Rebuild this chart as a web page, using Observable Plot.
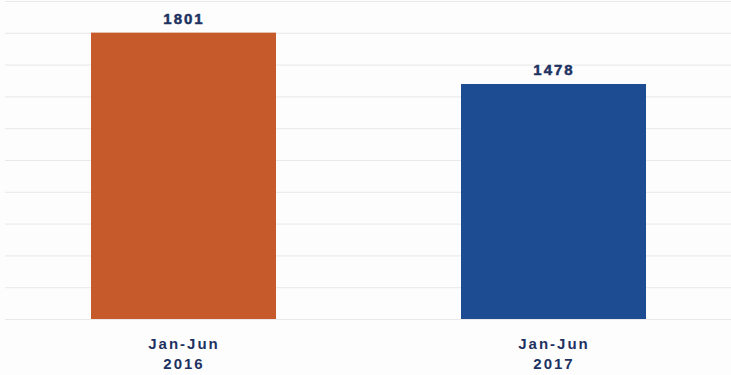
<!DOCTYPE html>
<html>
<head>
<meta charset="utf-8">
<script src="https://cdn.jsdelivr.net/npm/d3@7"></script>
<script src="https://cdn.jsdelivr.net/npm/@observablehq/plot@0.6"></script>
<style>
  html, body { margin: 0; padding: 0; background: #fdfdfd; }
  #chart svg { display: block; background: #fdfdfd; font-family: "Liberation Sans", Arial, sans-serif; }
  #chart svg text { letter-spacing: 2px; }
</style>
</head>
<body>
<div id="chart"></div>
<script>
const periods = ["Jan-Jun\n2016", "Jan-Jun\n2017"];
const values = [1801, 1478];
const colors = ["#C75A2B", "#1D4C93"];
const gridTicks = d3.range(0, 2001, 200);

const data = periods.map((p, i) => ({period: p, value: values[i], color: colors[i]}));
const navy = "#1E3262";

const chart = Plot.plot({
  width: 731,
  height: 375,
  marginTop: 1,
  marginBottom: 56,
  marginLeft: 5,
  marginRight: 0,
  x: {domain: periods, paddingInner: 0.5, paddingOuter: 0.23, axis: null},
  y: {domain: [0, 2000], axis: null},
  marks: [
    Plot.ruleY(gridTicks, {stroke: "#e0e0e0", strokeOpacity: 0.7, strokeWidth: 1}),
    Plot.barY(data, {x: "period", y: "value", fill: "color"}),
    Plot.text(data, {x: "period", y: "value", text: d => String(d.value), lineAnchor: "bottom", dy: -9,
      fill: navy, stroke: navy, strokeWidth: 0.5, fontSize: 15, fontWeight: "bold"}),
    Plot.axisX({tickSize: 0, tickPadding: 16, fontSize: 15, fontWeight: "bold", fill: navy,
      stroke: navy, strokeWidth: 0.5, lineHeight: 1.3, label: null})
  ]
});
document.getElementById("chart").appendChild(chart);
</script>
</body>
</html>
